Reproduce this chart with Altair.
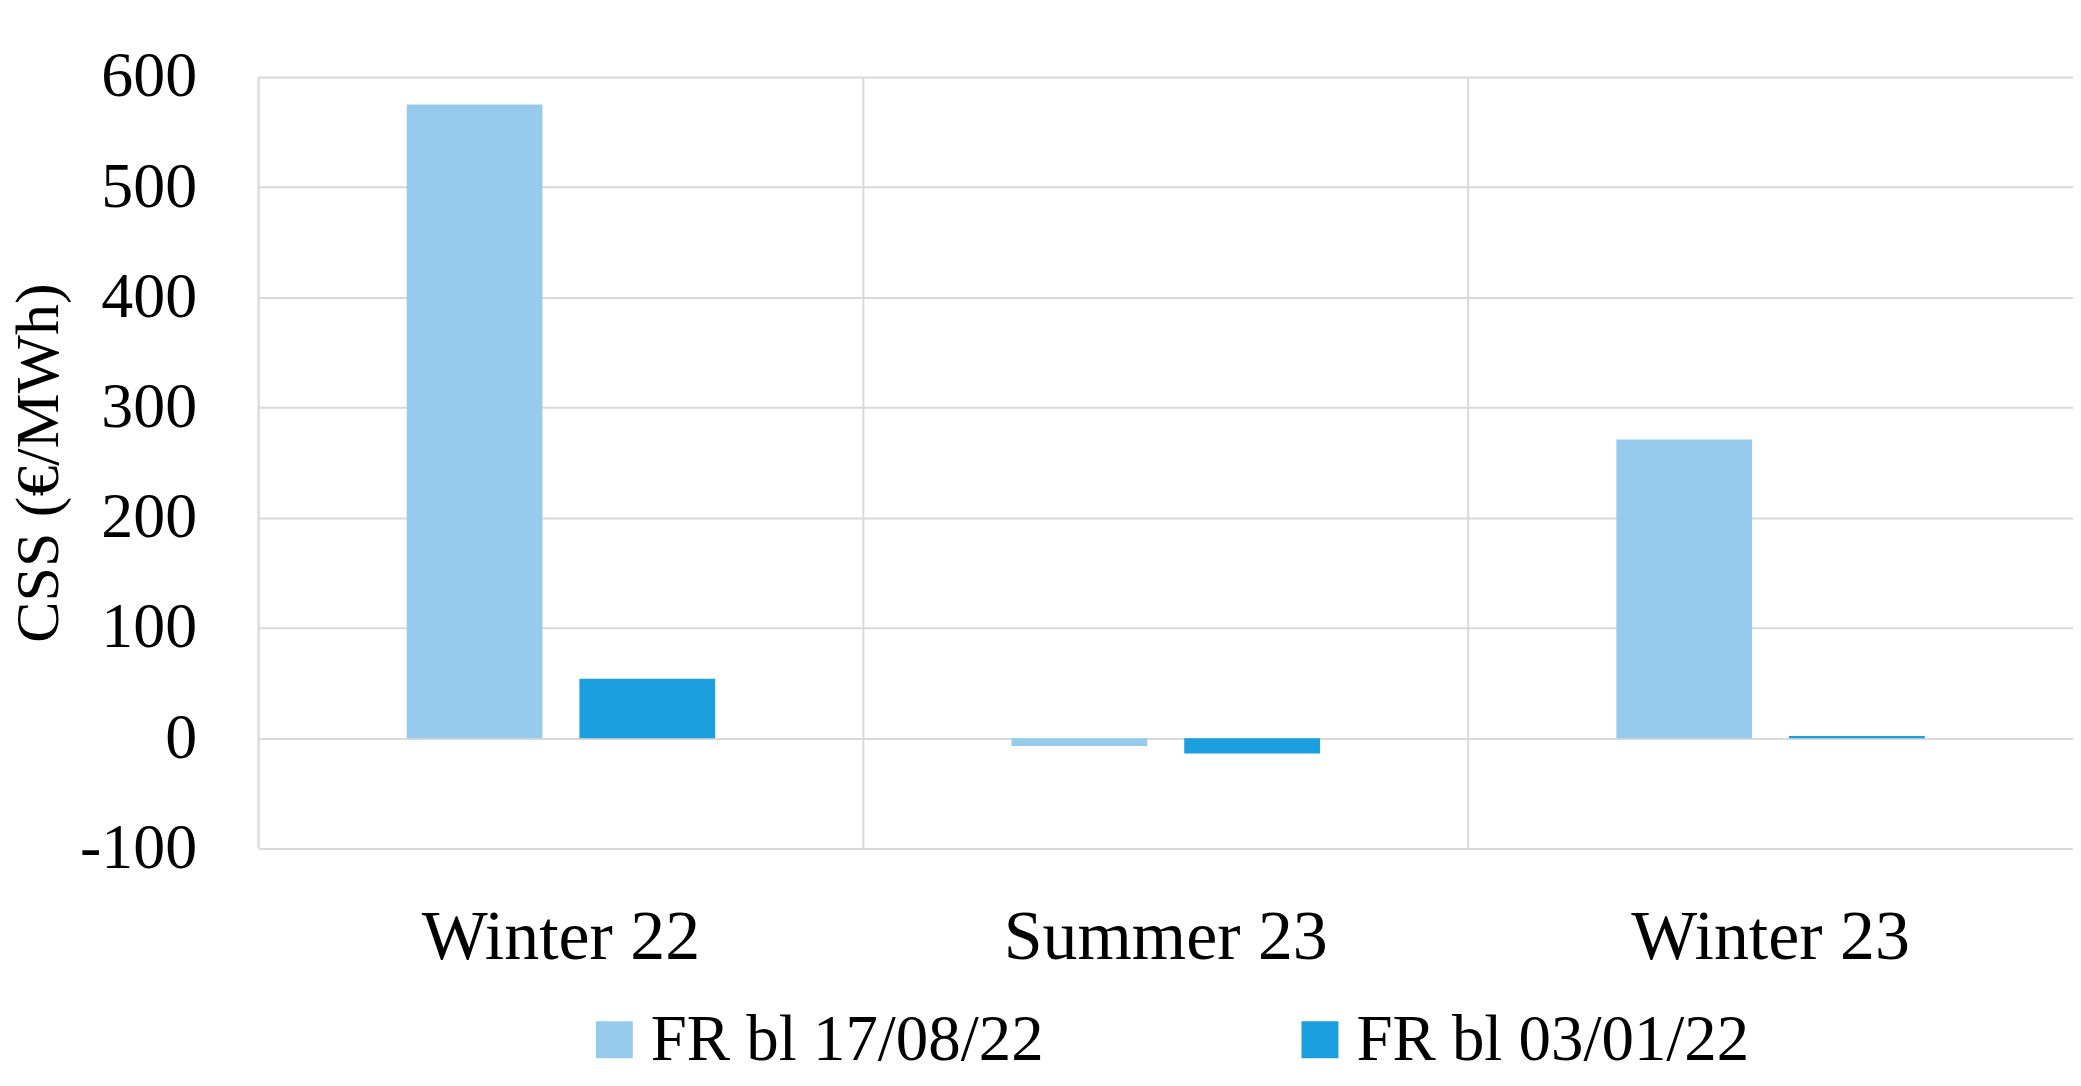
import altair as alt
import pandas as pd

categories = ["Winter 22", "Summer 23", "Winter 23"]
series = ["FR bl 17/08/22", "FR bl 03/01/22"]
values_1708 = [575, -7, 271]
values_0301 = [54, -14, 2]
colors = ["#97CBEE", "#1C9FDF"]
y_ticks = [-100, 0, 100, 200, 300, 400, 500, 600]

rows = []
for c, v in zip(categories, values_1708):
    rows.append({"season": c, "series": series[0], "value": v})
for c, v in zip(categories, values_0301):
    rows.append({"season": c, "series": series[1], "value": v})
df = pd.DataFrame(rows)

FONT = "Liberation Serif"
GRID = "#D9D9D9"

xscale = alt.Scale(domain=categories, paddingInner=0, paddingOuter=0)
xaxis = alt.Axis(
    labelAngle=0,
    labelFontSize=70,
    labelFont=FONT,
    labelColor="#000000",
    labelPadding=55,
    labelLimit=0,
    ticks=False,
    domain=False,
    grid=False,
)

rules = alt.Chart(pd.DataFrame({"season": categories})).mark_rule(
    color=GRID, strokeWidth=2
).encode(
    x=alt.X("season:N", scale=xscale, bandPosition=0, axis=xaxis, title=None),
    y=alt.value(0),
    y2=alt.value(773),
)

bars = alt.Chart(df).mark_bar().encode(
    x=alt.X("season:N", scale=xscale, title=None, axis=xaxis),
    xOffset=alt.XOffset(
        "series:N",
        sort=series,
        scale=alt.Scale(domain=series, paddingInner=0.214, paddingOuter=0.858),
    ),
    y=alt.Y(
        "value:Q",
        scale=alt.Scale(domain=[-100, 600], nice=False, zero=False),
        title="CSS (€/MWh)",
        axis=alt.Axis(
            values=y_ticks,
            labelExpr="replace(datum.label, '−', '-')",
            labelFontSize=64,
            labelFont=FONT,
            labelColor="#000000",
            labelPadding=62,
            titleFontSize=62,
            titleFont=FONT,
            titleFontWeight="normal",
            titleColor="#000000",
            titlePadding=9,
            ticks=False,
            domain=False,
            grid=True,
            gridColor=GRID,
            gridWidth=2,
        ),
    ),
    color=alt.Color(
        "series:N",
        sort=series,
        scale=alt.Scale(domain=series, range=colors),
        legend=alt.Legend(
            title=None,
            orient="none",
            direction="horizontal",
            legendX=324,
            legendY=932,
            symbolType="square",
            symbolSize=1369,
            symbolStrokeWidth=0,
            labelFontSize=65,
            labelFont=FONT,
            labelColor="#000000",
            labelLimit=0,
            columnPadding=244,
            labelOffset=4,
            padding=0,
        ),
    ),
)

chart = alt.layer(rules, bars).properties(
    width=1818,
    height=773,
    autosize=alt.AutoSizeParams(type="none"),
    padding={"left": 251, "top": 68, "right": 0, "bottom": 220},
).configure_view(stroke=GRID, strokeWidth=2).configure(background="white")

chart.save("out.html", embed_options={"renderer": "svg", "actions": False})
